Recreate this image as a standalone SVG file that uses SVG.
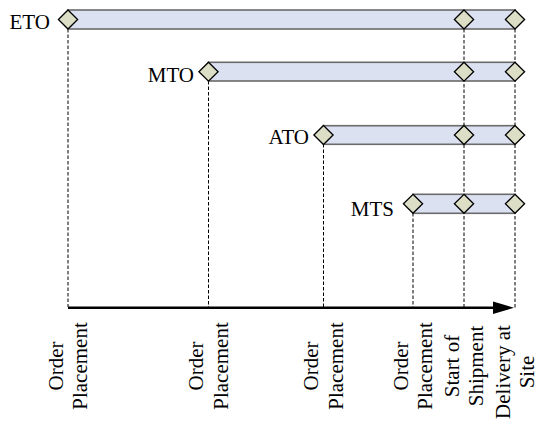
<svg xmlns="http://www.w3.org/2000/svg" width="539" height="426" viewBox="0 0 539 426">
<style>
text{font-family:'Liberation Serif','Times New Roman',serif;font-size:21px;fill:#000}
.bar{fill:#dce1f2;stroke:#6b6b6b;stroke-width:1.6}
.dia{fill:#dcdfc6;stroke:#000;stroke-width:1.3}
.dash{stroke:#000;stroke-width:1;stroke-dasharray:3.5 2;fill:none}
.axis{stroke:#000;stroke-width:2.6;fill:none}
</style>
<defs>
<polygon id="d" class="dia" points="0,-9.5 9.6,0 0,9.5 -9.6,0"/>
</defs>
<rect width="539" height="426" fill="#fff"/>
<g id="connectors">
<line class="dash" x1="68" y1="29" x2="68" y2="307"/>
<line class="dash" x1="208.5" y1="81" x2="208.5" y2="307"/>
<line class="dash" x1="323.5" y1="144" x2="323.5" y2="307"/>
<line class="dash" x1="413" y1="213" x2="413" y2="307"/>
<line class="dash" x1="464" y1="29" x2="464" y2="307"/>
<line class="dash" x1="515" y1="29" x2="515" y2="309"/>
<line class="axis" x1="68" y1="307.7" x2="496" y2="307.7"/>
<polygon points="493,301.5 514,307.7 493,314" fill="#000"/>
</g>
<g id="eto">
<rect class="bar" x="68" y="10" width="447" height="19"/>
<use href="#d" x="68" y="19.5"/><use href="#d" x="464" y="19.5"/><use href="#d" x="515" y="19.5"/>
<text x="50" y="29" text-anchor="end">ETO</text>
</g>
<g id="mto">
<rect class="bar" x="208.5" y="62.3" width="306.5" height="18.7"/>
<use href="#d" x="208.5" y="71.7"/><use href="#d" x="464" y="71.7"/><use href="#d" x="515" y="71.7"/>
<text x="194" y="82" text-anchor="end">MTO</text>
</g>
<g id="ato">
<rect class="bar" x="323.5" y="125.7" width="191.5" height="18.6"/>
<use href="#d" x="323.5" y="135"/><use href="#d" x="464" y="135"/><use href="#d" x="515" y="135"/>
<text x="309" y="144" text-anchor="end">ATO</text>
</g>
<g id="mts">
<rect class="bar" x="413" y="194.3" width="102" height="19"/>
<use href="#d" x="413" y="203.8"/><use href="#d" x="464" y="203.8"/><use href="#d" x="515" y="203.8"/>
<text x="394" y="216" text-anchor="end">MTS</text>
</g>
<g id="label-eto" transform="translate(68,366) rotate(-90)">
<text text-anchor="middle"><tspan x="0" y="-5.5">Order</tspan><tspan x="0" y="19">Placement</tspan></text>
</g>
<g id="label-mto" transform="translate(208.5,366) rotate(-90)">
<text text-anchor="middle"><tspan x="0" y="-5.5">Order</tspan><tspan x="0" y="19">Placement</tspan></text>
</g>
<g id="label-ato" transform="translate(323.5,366) rotate(-90)">
<text text-anchor="middle"><tspan x="0" y="-5.5">Order</tspan><tspan x="0" y="19">Placement</tspan></text>
</g>
<g id="label-mts" transform="translate(413,366) rotate(-90)">
<text text-anchor="middle"><tspan x="0" y="-5.5">Order</tspan><tspan x="0" y="19">Placement</tspan></text>
</g>
<g id="label-shipment" transform="translate(464,366) rotate(-90)">
<text text-anchor="middle"><tspan x="0" y="-5.5">Start of</tspan><tspan x="0" y="19">Shipment</tspan></text>
</g>
<g id="label-delivery" transform="translate(515,372) rotate(-90)">
<text text-anchor="middle"><tspan x="0" y="-5.5">Delivery at</tspan><tspan x="0" y="19">Site</tspan></text>
</g>
</svg>
